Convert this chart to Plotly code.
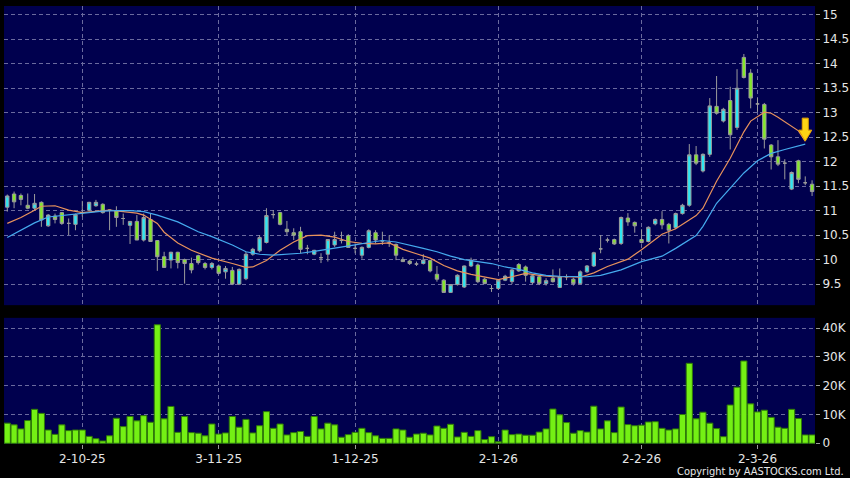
import plotly.graph_objects as go
from plotly.subplots import make_subplots

# daily candles, index 0 = first trading day shown
opens = [11.07, 11.34, 11.31, 11.11, 11.05, 11.17, 10.69, 10.89, 10.96, 10.74,
         10.72, 10.96, 11.01, 11.10, 11.13, 11.01, 11.00, 10.84, 10.70, 10.78,
         10.40, 10.82, 10.39, 10.06, 9.99, 10.15, 10.00, 9.92, 10.08, 9.92,
         9.84, 9.87, 9.75, 9.78, 9.50, 9.61, 10.11, 10.18, 10.35, 10.92,
         10.96, 10.62, 10.55, 10.57, 10.23, 10.11, 10.04, 10.11, 10.30, 10.39,
         10.49, 10.23, 10.09, 10.25, 10.55, 10.38, 10.34, 10.31, 10.00, 9.97,
         9.91, 9.92, 9.98, 9.70, 9.58, 9.33, 9.49, 9.44, 9.87, 9.89,
         9.60, 9.41, 9.41, 9.58, 9.55, 9.90, 9.85, 9.53, 9.65, 9.51,
         9.62, 9.43, 9.65, 9.60, 9.51, 9.75, 9.87, 10.22, 10.40, 10.41,
         10.33, 10.85, 10.76, 10.41, 10.37, 10.73, 10.82, 10.72, 10.65, 10.94,
         11.11, 12.14, 11.81, 12.15, 13.13, 12.83, 13.25, 12.70, 14.13, 13.81,
         13.18, 13.17, 12.34, 12.10, 11.97, 11.44, 12.02, 11.57, 11.54]
highs = [11.33, 11.39, 11.35, 11.35, 11.34, 11.19, 10.93, 10.94, 10.97, 10.84,
         10.94, 11.20, 11.18, 11.22, 11.15, 11.02, 11.09, 10.94, 10.79, 10.91,
         10.94, 10.94, 10.40, 10.16, 10.16, 10.16, 10.02, 10.04, 10.10, 9.95,
         9.95, 9.90, 9.87, 9.85, 9.82, 10.16, 10.24, 10.50, 11.05, 11.01,
         10.97, 10.79, 10.64, 10.67, 10.30, 10.20, 10.13, 10.41, 10.57, 10.57,
         10.52, 10.33, 10.27, 10.62, 10.60, 10.57, 10.50, 10.33, 10.05, 10.00,
         9.96, 10.11, 10.00, 9.87, 9.60, 9.50, 9.70, 9.88, 10.04, 9.92,
         9.63, 9.48, 9.60, 9.69, 9.81, 9.93, 9.88, 9.69, 9.68, 9.62,
         9.80, 9.82, 9.70, 9.63, 9.78, 9.89, 10.16, 10.50, 10.45, 10.43,
         10.88, 10.95, 10.78, 10.62, 10.68, 10.84, 10.99, 10.75, 10.96, 11.14,
         12.36, 12.32, 12.17, 13.30, 13.75, 13.10, 13.53, 13.89, 14.20, 13.89,
         13.30, 13.20, 12.36, 12.44, 12.05, 11.80, 12.04, 11.70, 11.62]
lows = [10.98, 11.05, 11.11, 11.03, 11.00, 10.67, 10.67, 10.74, 10.71, 10.50,
        10.60, 10.88, 10.99, 11.08, 10.94, 10.60, 10.67, 10.71, 10.32, 10.40,
        10.37, 10.37, 9.77, 9.84, 9.82, 9.82, 9.51, 9.72, 9.90, 9.80,
        9.80, 9.70, 9.61, 9.48, 9.48, 9.58, 10.08, 10.15, 10.33, 10.84,
        10.70, 10.50, 10.40, 10.13, 10.11, 10.09, 9.93, 9.96, 10.26, 10.33,
        10.25, 10.13, 10.02, 10.23, 10.33, 10.30, 10.26, 9.99, 9.95, 9.89,
        9.87, 9.90, 9.74, 9.55, 9.33, 9.32, 9.47, 9.42, 9.85, 9.52,
        9.50, 9.34, 9.38, 9.56, 9.50, 9.75, 9.55, 9.50, 9.48, 9.47,
        9.53, 9.42, 9.58, 9.47, 9.49, 9.73, 9.85, 10.13, 10.35, 10.30,
        10.30, 10.69, 10.55, 10.33, 10.35, 10.70, 10.62, 10.33, 10.62, 10.92,
        11.08, 11.93, 11.78, 12.10, 12.96, 12.80, 12.25, 12.65, 13.70, 13.09,
        13.02, 12.27, 11.84, 11.91, 11.64, 11.42, 11.56, 11.52, 11.30]
closes = [11.30, 11.18, 11.23, 11.05, 11.15, 10.81, 10.91, 10.82, 10.74, 10.74,
          10.92, 10.96, 11.17, 11.17, 10.96, 11.01, 10.86, 10.84, 10.78, 10.40,
          10.86, 10.37, 10.06, 9.84, 10.15, 9.94, 9.92, 9.79, 9.94, 9.84,
          9.92, 9.72, 9.82, 9.50, 9.80, 10.11, 10.21, 10.45, 10.90, 10.92,
          10.72, 10.57, 10.50, 10.21, 10.23, 10.19, 10.04, 10.41, 10.41, 10.39,
          10.25, 10.23, 10.25, 10.59, 10.40, 10.38, 10.34, 10.09, 9.96, 9.92,
          9.91, 9.99, 9.77, 9.60, 9.33, 9.49, 9.68, 9.87, 9.99, 9.55,
          9.51, 9.41, 9.58, 9.66, 9.79, 9.77, 9.68, 9.67, 9.51, 9.57,
          9.55, 9.65, 9.65, 9.51, 9.75, 9.87, 10.14, 10.22, 10.40, 10.32,
          10.86, 10.77, 10.69, 10.35, 10.66, 10.82, 10.71, 10.60, 10.94, 11.11,
          12.14, 11.97, 12.15, 13.14, 12.99, 13.07, 12.55, 13.50, 13.72, 13.30,
          13.18, 12.46, 12.10, 11.95, 11.97, 11.78, 11.64, 11.57, 11.39]
volumes = [7.0, 6.4, 5.0, 7.9, 11.8, 10.4, 4.6, 3.1, 6.4, 4.4,
           4.6, 4.6, 2.4, 1.6, 0.8, 2.6, 8.7, 5.8, 9.3, 7.8,
           9.6, 7.3, 41.2, 8.5, 12.8, 3.8, 9.3, 3.7, 3.5, 2.6,
           6.7, 3.2, 3.6, 9.3, 5.6, 8.3, 3.6, 6.1, 11.0, 5.2,
           6.7, 2.9, 3.7, 4.1, 2.4, 9.3, 5.0, 7.0, 6.4, 2.1,
           3.0, 3.8, 5.2, 3.7, 2.6, 1.7, 1.7, 5.0, 4.6, 2.1,
           3.2, 3.5, 2.9, 6.0, 5.2, 6.6, 2.2, 3.8, 2.4, 4.4,
           1.3, 2.3, 0.5, 4.6, 3.0, 3.2, 2.8, 2.8, 3.9, 5.0,
           11.9, 9.9, 7.2, 3.5, 4.4, 3.9, 12.9, 5.0, 7.8, 3.7,
           12.6, 6.5, 6.1, 6.3, 7.4, 7.5, 5.2, 4.6, 5.0, 10.0,
           27.8, 8.5, 10.8, 7.0, 5.1, 2.3, 13.3, 19.5, 28.6, 13.7,
           10.9, 11.5, 9.0, 5.6, 5.2, 11.8, 8.6, 2.9, 2.9]  # thousands of shares

# moving averages (index, value)
ma_short_idx = [0, 2, 4, 5, 7, 9, 11, 13, 15, 17, 19, 20, 22, 23, 25, 27, 28, 30,
                33, 35, 36, 38, 40, 42, 44, 46, 48, 50, 52, 54, 56, 58, 60, 62,
                64, 66, 68, 70, 72, 74, 76, 78, 80, 82, 84, 86, 88, 91, 93, 96,
                98, 101, 102, 104, 106, 108, 109, 111, 112, 113, 115, 116, 117]
ma_short = [10.74, 10.86, 11.01, 11.09, 11.10, 11.01, 10.96, 10.99, 11.01, 10.98,
            10.95, 10.91, 10.74, 10.56, 10.34, 10.19, 10.14, 10.03, 9.92, 9.84,
            9.85, 9.98, 10.19, 10.36, 10.49, 10.50, 10.46, 10.37, 10.33, 10.32,
            10.34, 10.21, 10.12, 10.03, 9.88, 9.77, 9.70, 9.65, 9.59, 9.65,
            9.72, 9.68, 9.65, 9.65, 9.64, 9.73, 9.86, 10.01, 10.20, 10.52,
            10.63, 10.90, 11.05, 11.60, 12.07, 12.61, 12.83, 13.01, 12.99, 12.91,
            12.72, 12.63, 12.42]
ma_long_idx = [0, 2, 4, 6, 9, 11, 14, 16, 18, 20, 22, 25, 28, 30, 33, 35, 37, 39,
               41, 43, 45, 47, 49, 51, 53, 55, 57, 59, 61, 63, 65, 67, 69, 71,
               73, 75, 77, 79, 81, 83, 85, 87, 88, 90, 93, 96, 98, 101, 102, 104,
               106, 108, 110, 112, 114, 116, 117]
ma_long = [10.45, 10.60, 10.75, 10.87, 10.92, 10.94, 10.99, 11.00, 11.00, 10.98,
           10.91, 10.77, 10.57, 10.47, 10.30, 10.16, 10.11, 10.09, 10.11, 10.13,
           10.17, 10.21, 10.25, 10.30, 10.35, 10.39, 10.36, 10.30, 10.23, 10.16,
           10.07, 10.00, 9.96, 9.92, 9.85, 9.80, 9.73, 9.68, 9.66, 9.65,
           9.65, 9.68, 9.72, 9.79, 9.96, 10.07, 10.23, 10.49, 10.68, 11.15,
           11.46, 11.77, 12.02, 12.17, 12.25, 12.32, 12.36]

tick_idx = [11, 31, 51, 72, 93, 110]
tick_labels = ["2-10-25", "3-11-25", "1-12-25", "2-1-26", "2-2-26", "2-3-26"]
price_ticks = [9.5, 10, 10.5, 11, 11.5, 12, 12.5, 13, 13.5, 14, 14.5, 15]
vol_ticks = [0, 10, 20, 30, 40]
vol_tick_labels = ["0", "10K", "20K", "30K", "40K"]

BG = "#00004e"
GRID = "#6a6a9e"
WICK = "#9c9c9c"

x = list(range(len(closes)))

fig = make_subplots(rows=2, cols=1, shared_xaxes=True)

fig.add_trace(go.Candlestick(
    x=x, open=opens, high=highs, low=lows, close=closes,
    increasing=dict(line=dict(color=WICK, width=1), fillcolor="#2ee6f2"),
    decreasing=dict(line=dict(color=WICK, width=1), fillcolor="#84e82a"),
    showlegend=False, hoverinfo="skip",
), row=1, col=1)
fig.add_trace(go.Scatter(x=ma_short_idx, y=ma_short, mode="lines",
                         line=dict(color="#e8925c", width=1.2),
                         showlegend=False, hoverinfo="skip"), row=1, col=1)
fig.add_trace(go.Scatter(x=ma_long_idx, y=ma_long, mode="lines",
                         line=dict(color="#45aaee", width=1.2),
                         showlegend=False, hoverinfo="skip"), row=1, col=1)

fig.add_trace(go.Bar(x=x, y=volumes, marker=dict(color="#74f014",
                     line=dict(color="#2f7a08", width=1)),
                     showlegend=False, hoverinfo="skip"), row=2, col=1)

# yellow block arrow pointing at the latest MA value (pixel-sized path)
fig.add_shape(type="path", xref="x", yref="y",
              xsizemode="pixel", ysizemode="pixel",
              xanchor=ma_short_idx[-1], yanchor=ma_short[-1],
              path="M -3,23 L 3,23 L 3,11 L 6.5,11 L 0,0 L -6.5,11 L -3,11 Z",
              fillcolor="#ffd414", line=dict(color="#e8a400", width=1))

fig.add_annotation(text="Copyright by AASTOCKS.com Ltd.", xref="paper", yref="paper",
                   x=1, y=-0.062, xanchor="right", yanchor="middle", xshift=31,
                   showarrow=False,
                   font=dict(family="DejaVu Sans Condensed, DejaVu Sans", size=11,
                             color="#e8e8e8"))

axis_common = dict(showgrid=True, gridcolor=GRID, griddash="4px,3px", gridwidth=1,
                   zeroline=False, showline=False)

fig.update_xaxes(range=[-0.48, 118.43], tickvals=tick_idx, ticktext=tick_labels,
                 rangeslider_visible=False, **axis_common)
fig.update_xaxes(showticklabels=False, ticks="", row=1, col=1)
fig.update_xaxes(ticks="outside", ticklen=4, tickcolor="#9a9a9a",
                 ticklabelstandoff=0, row=2, col=1)

fig.update_yaxes(side="right", ticks="outside", ticklen=4, tickcolor="#9a9a9a",
                 **axis_common)
fig.update_yaxes(range=[9.07, 15.18], tickvals=price_ticks, domain=[0.317, 1],
                 row=1, col=1)
fig.update_yaxes(range=[-0.25, 43.6], tickvals=vol_ticks, ticktext=vol_tick_labels,
                 domain=[0, 0.288], row=2, col=1)

fig.update_layout(
    width=850, height=478,
    margin=dict(l=4, r=35, t=6, b=34, autoexpand=False),
    paper_bgcolor="#000000", plot_bgcolor=BG,
    font=dict(family="DejaVu Sans", size=12, color="#e6e6e6"),
    bargap=0.1,
)

fig.write_html("out.html", config={"displayModeBar": False},
               post_script="document.body.style.margin='0';")
